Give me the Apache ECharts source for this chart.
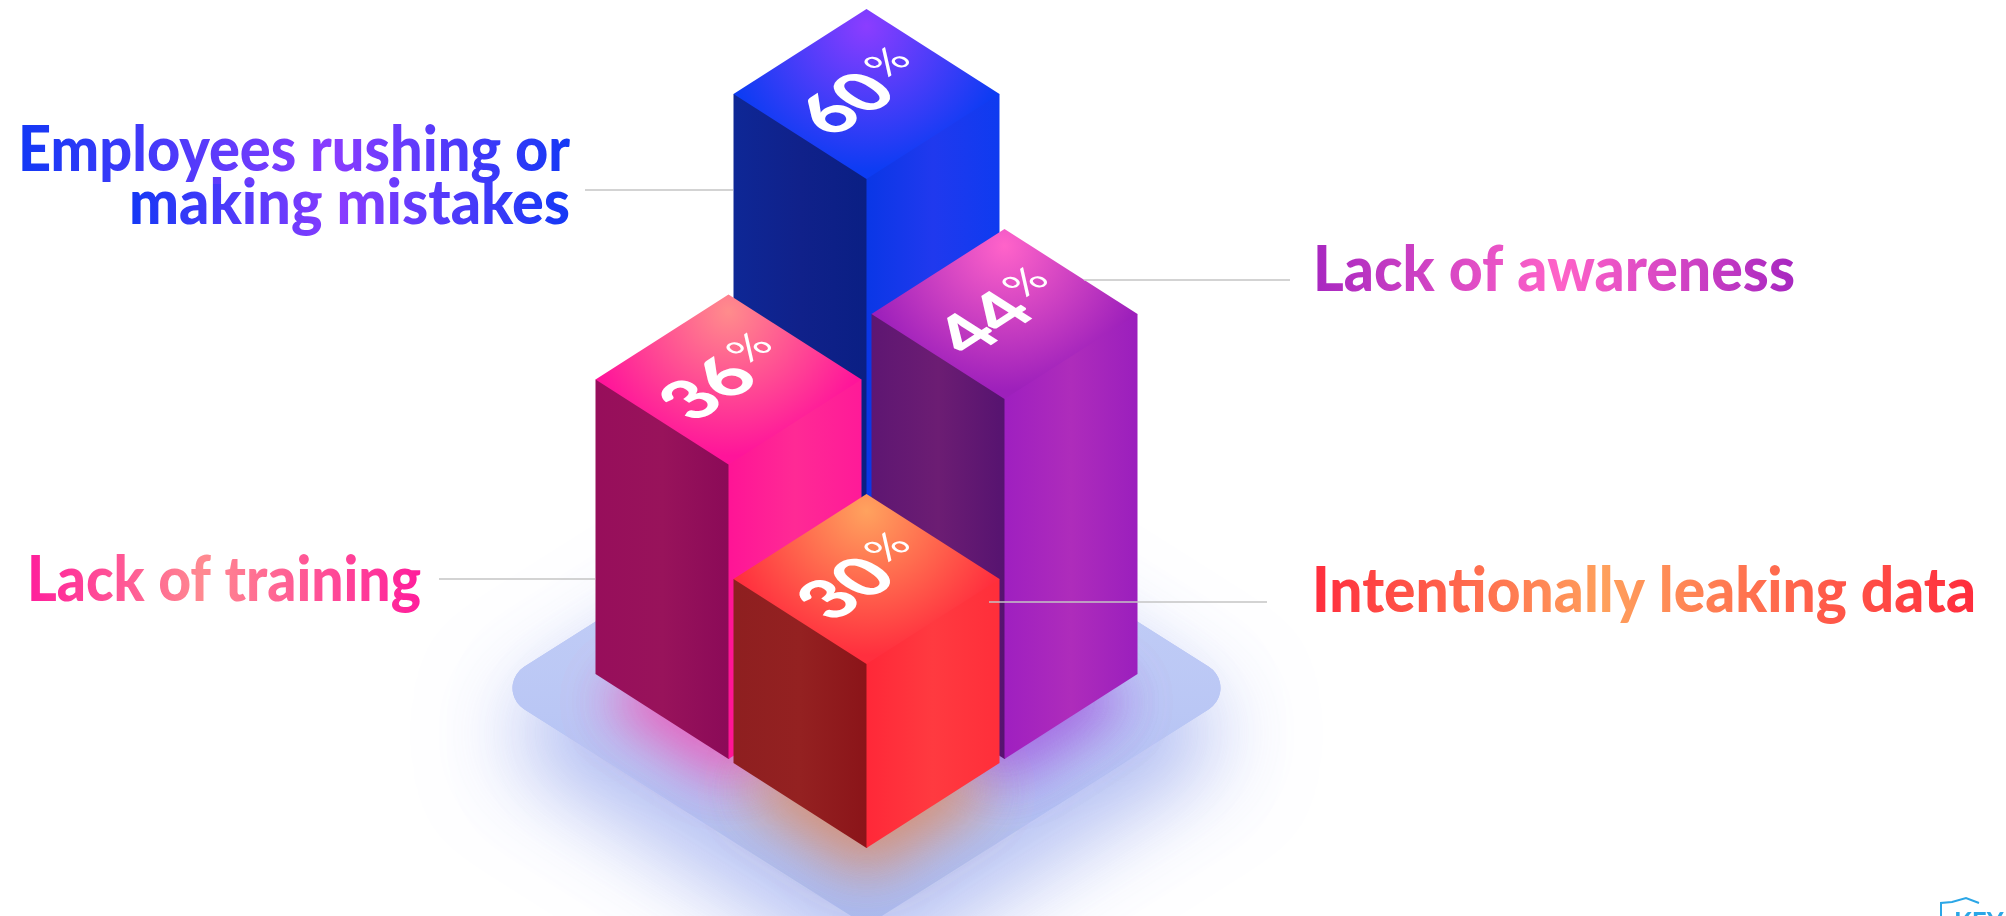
<!DOCTYPE html>
<html>
<head>
<meta charset="utf-8">
<title>Causes of data exposure</title>
<style>
  html, body { margin: 0; padding: 0; background: #ffffff; }
  #chart { width: 2006px; height: 916px; }
</style>
<script src="https://cdn.jsdelivr.net/npm/echarts@6/dist/echarts.min.js"></script>
</head>
<body>
<div id="chart"></div>
<script>
// Chart data
const categories = ['Employees rushing or making mistakes', 'Lack of awareness', 'Lack of training', 'Intentionally leaking data'];
const shares = [60, 44, 36, 30];
const lanes = [0, 1, -1, 0];   // horizontal slot on the plate
const rows = [0, 1, 1, 2];     // depth on the plate, 0 = furthest back

// Isometric box proportions, in pixels
const FACE_HALF_W = 133;
const FACE_HALF_H = 85;
const ROW_STEP = 89;
const LABEL_FONT = 'Lato';

// Face colours per bar
const palettes = [
  { hi: '#8b3dff', lo: '#0d3cf3', left: ['#0e2796', '#10218a', '#0a1f84'], right: ['#0a37e6', '#2039ee', '#0f3bf0'], glow: 'rgba(60,70,240,0)' },
  { hi: '#ff63c9', lo: '#9d20bb', left: ['#5e1672', '#6c1d73', '#561370'], right: ['#9f1fc0', '#ae2cbb', '#9b1fbd'], glow: 'rgba(150,40,215,0.6)' },
  { hi: '#ff8c8c', lo: '#ff149a', left: ['#970e5b', '#98135b', '#8b0a58'], right: ['#ff1496', '#ff2a95', '#ff1a98'], glow: 'rgba(255,40,160,0.62)' },
  { hi: '#ffa25e', lo: '#ff2f3e', left: ['#8e1f20', '#942121', '#8b1419'], right: ['#ff2838', '#ff3a40', '#ff2e3a'], glow: 'rgba(225,130,80,0.7)' }
];

// Caption placement: one entry per text line; peak is where the light colour sits along the line
const captionLines = [
  [{ text: 'Employees rushing or', x0: 18, x1: 570, base: 173, peak: 0.57, top: 115, bottom: 184 },
   { text: 'making mistakes', x0: 129, x1: 570, base: 226, peak: 0.48, top: 184, bottom: 246 }],
  [{ text: 'Lack of awareness', x0: 1313, x1: 1795, base: 293, peak: 0.51, top: 235, bottom: 316 }],
  [{ text: 'Lack of training', x0: 27, x1: 421, base: 603, peak: 0.45, top: 545, bottom: 626 }],
  [{ text: 'Intentionally leaking data', x0: 1312, x1: 1976, base: 614, peak: 0.44, top: 555, bottom: 636 }]
];
const captionColors = [
  ['#1038f5', '#8a3cff'],
  ['#a526c0', '#ff62c8'],
  ['#ff1a9c', '#ff8a90'],
  ['#ff2a3c', '#ffa05c']
];
const leaders = [[585, 733, 190], [1084, 1290, 280], [439, 595, 579], [989, 1267, 602]];

const measureCtx = document.createElement('canvas').getContext('2d');

function faceGradient(stops) {
  return new echarts.graphic.LinearGradient(0, 0, 1, 0, [
    { offset: 0, color: stops[0] },
    { offset: 0.5, color: stops[1] },
    { offset: 1, color: stops[2] }
  ]);
}

// Bars: three faces plus a percentage laid flat on the top face
function renderBar(params, api) {
  const i = api.value(3);
  const value = api.value(2);
  const row = api.value(1);
  const pal = palettes[i];
  const cx = api.coord([api.value(0), 0])[0];
  const by = api.coord([0, 0])[1] + row * ROW_STEP;
  const ty = api.coord([0, value])[1] + row * ROW_STEP;
  const w = FACE_HALF_W, h = FACE_HALF_H;
  return {
    type: 'group',
    children: [
      // side faces run a little under the top face and the next face, which closes the seams
      { type: 'polygon', silent: true,
        shape: { points: [[cx - w, ty], [cx, ty], [cx + 0.6, ty + h], [cx + 0.6, by + h], [cx, by + h], [cx - w, by]] },
        style: { fill: faceGradient(pal.left) } },
      { type: 'polygon', silent: true,
        shape: { points: [[cx + w, ty], [cx, ty], [cx, by + h], [cx + w, by]] },
        style: { fill: faceGradient(pal.right) } },
      { type: 'polygon', silent: true,
        shape: { points: [[cx, ty - h], [cx + w, ty], [cx, ty + h], [cx - w, ty]] },
        style: { fill: new echarts.graphic.RadialGradient(0.5, 0.1, 0.85, [
          { offset: 0, color: pal.hi },
          { offset: 1, color: pal.lo }
        ]) } },
      { type: 'group', x: cx - 3, y: ty, scaleY: h / w,
        children: [{
          type: 'text', silent: true, rotation: Math.PI / 4,
          style: {
            text: '{n|' + value + '}{p|%}',
            align: 'center', verticalAlign: 'middle',
            fill: '#ffffff',
            rich: {
              n: { fontFamily: LABEL_FONT, fontWeight: 900, fontSize: 84, fill: '#ffffff' },
              p: { fontFamily: LABEL_FONT, fontWeight: 'normal', fontSize: 50, fill: '#ffffff', verticalAlign: 'top', padding: [0, 0, 0, 6] }
            }
          }
        }]
      }
    ]
  };
}

// Coloured light spilled onto the plate around each foot; the shape stays hidden under its bar
function renderGlow(params, api) {
  const pal = palettes[api.value(3)];
  const cx = api.coord([api.value(0), 0])[0];
  const by = api.coord([0, 0])[1] + api.value(1) * ROW_STEP;
  const w = FACE_HALF_W - 6, h = FACE_HALF_H - 4;
  const pts = [[cx, by - h], [cx + w, by], [cx, by + h], [cx - w, by]];
  const style = { fill: pal.glow, shadowColor: pal.glow, shadowBlur: 55, shadowOffsetY: 28 };
  return {
    type: 'group',
    children: [
      { type: 'polygon', silent: true, shape: { points: pts }, style: style },
      { type: 'polygon', silent: true, shape: { points: pts }, style: style }
    ]
  };
}

// Rounded diamond plate under the bars
function renderPlate(params, api) {
  const cx = api.coord([0, 0])[0];
  const cy = api.coord([0, 0])[1] + 103;
  const halfW = 329, halfH = 208;
  const pts = [[cx, cy - halfH], [cx + halfW, cy], [cx, cy + halfH], [cx - halfW, cy]];
  const fill = new echarts.graphic.LinearGradient(0, 0, 0, 1, [
    { offset: 0, color: '#c8d2f7' },
    { offset: 0.55, color: '#bac7f5' },
    { offset: 1, color: '#a9b9ef' }
  ]);
  return {
    type: 'group',
    children: [
      { type: 'polygon', silent: true, shape: { points: pts },
        style: { fill: '#b3c1f3', stroke: '#b3c1f3', lineWidth: 50, lineJoin: 'round',
                 shadowColor: 'rgba(125,145,235,0.55)', shadowBlur: 95, shadowOffsetY: 45 } },
      { type: 'polygon', silent: true, shape: { points: pts },
        style: { fill: fill, stroke: fill, lineWidth: 50, lineJoin: 'round' } }
    ]
  };
}

// Leader line from a caption to its bar
function renderLeader(params, api) {
  const [x1, x2, y] = leaders[api.value(0)];
  return {
    type: 'line', silent: true, shape: { x1: x1, y1: y, x2: x2, y2: y },
    style: { stroke: '#c4c4c4', lineWidth: 1.5 }
  };
}

// Caption text, squeezed to the width its line occupies
function renderCaptionText(params, api) {
  const i = api.value(0);
  const font = '900 63px ' + LABEL_FONT;
  measureCtx.font = font;
  return {
    type: 'group',
    children: captionLines[i].map(function (line) {
      const w = measureCtx.measureText(line.text).width;
      return {
        type: 'text', silent: true,
        x: line.x0, y: line.base - 22,
        scaleX: (line.x1 - line.x0) / w,
        style: { text: line.text, font: font, fill: captionColors[i][0], align: 'left', verticalAlign: 'middle' }
      };
    })
  };
}

// Colour wash for the captions; the series blend mode keeps it on the letters only
function renderCaptionWash(params, api) {
  const i = api.value(0);
  return {
    type: 'group',
    children: captionLines[i].map(function (line) {
      return {
        type: 'rect', silent: true,
        shape: { x: line.x0 - 6, y: line.top, width: line.x1 - line.x0 + 12, height: line.bottom - line.top },
        style: {
          fill: new echarts.graphic.LinearGradient(0, 0, 1, 0, [
            { offset: 0, color: captionColors[i][0] },
            { offset: line.peak, color: captionColors[i][1] },
            { offset: 1, color: captionColors[i][0] }
          ])
        }
      };
    })
  };
}

// Small corner mark
function renderBadge() {
  return {
    type: 'group',
    children: [
      { type: 'polyline', silent: true,
        shape: { points: [[1941, 916], [1941, 903], [1952, 902], [1966, 898], [1979, 903]] },
        style: { fill: 'none', stroke: '#2ba6e6', lineWidth: 2 } },
      { type: 'text', silent: true, x: 1954, y: 910,
        style: { text: 'KEY', font: 'bold 26px ' + LABEL_FONT, fill: '#2ba6e6', align: 'left', verticalAlign: 'top' } }
    ]
  };
}

const rearIdx = [0, 1, 2];
const frontIdx = [3];
const barRow = function (i) { return [lanes[i], rows[i], shares[i], i]; };
const encodeBar = { x: 0, y: 2 };
const indexRows = categories.map(function (c, i) { return [i, 0]; });

const chart = echarts.init(document.getElementById('chart'), null, { renderer: 'canvas' });
chart.setOption({
  animation: false,
  backgroundColor: '#ffffff',
  grid: { left: 728.5, width: 276, top: 94, height: 491, containLabel: false },
  xAxis: { type: 'value', min: -1, max: 1, show: false },
  // The front row is foreshortened, so it reads its heights from its own axis
  yAxis: [
    { type: 'value', min: 0, max: 60, show: false },
    { type: 'value', min: 0, max: 80, show: false }
  ],
  series: [
    { type: 'custom', renderItem: renderPlate, data: [[0, 0]], encode: { x: 0, y: 1 }, silent: true, z: 1 },
    { type: 'custom', renderItem: renderGlow, data: [1, 2, 3].map(barRow), encode: encodeBar, silent: true, z: 2 },
    { type: 'custom', renderItem: renderBar, data: rearIdx.map(barRow), encode: encodeBar, silent: true, z: 3 },
    { type: 'custom', renderItem: renderBar, data: frontIdx.map(barRow), encode: encodeBar, yAxisIndex: 1, silent: true, z: 4 },
    { type: 'custom', renderItem: renderLeader, data: indexRows, encode: { x: 0, y: 1 }, silent: true, z: 5 },
    { type: 'custom', renderItem: renderBadge, data: [[0, 0]], encode: { x: 0, y: 1 }, silent: true, z: 6 },
    // Captions get a transparent layer of their own so the wash can only land on letters
    { type: 'custom', renderItem: renderCaptionText, data: indexRows, encode: { x: 0, y: 1 }, silent: true, zlevel: 1, z: 1 },
    { type: 'custom', renderItem: renderCaptionWash, data: indexRows, encode: { x: 0, y: 1 }, silent: true, zlevel: 1, z: 2, blendMode: 'source-atop' }
  ]
});
</script>
</body>
</html>
